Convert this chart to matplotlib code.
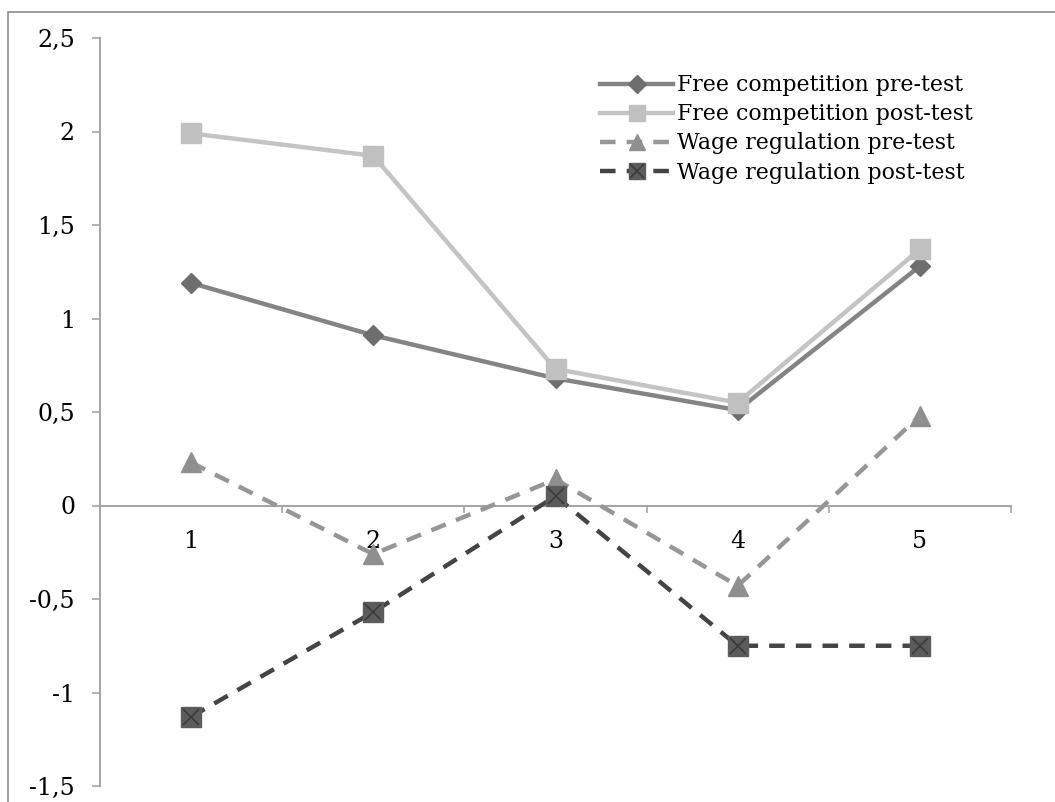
import matplotlib.pyplot as plt
from matplotlib.patches import Rectangle
from matplotlib.ticker import FixedLocator, FuncFormatter

# data
categories = [1, 2, 3, 4, 5]
free_pre = [1.19, 0.91, 0.68, 0.51, 1.28]
free_post = [1.99, 1.87, 0.73, 0.55, 1.37]
wage_pre = [0.23, -0.26, 0.14, -0.43, 0.48]
wage_post = [-1.13, -0.57, 0.05, -0.75, -0.75]

plt.rcParams['font.family'] = ['DejaVu Serif']

fig = plt.figure(figsize=(10.55, 8.02), dpi=100)
ax = fig.add_axes([100 / 1055, 16 / 802, 911 / 1055, 748 / 802])

# outer chart frame (cut off at right / bottom like the reference)
fig.patches.append(Rectangle((8 / 1055, -0.1), 1.2, 1.1 - 12 / 802,
                             transform=fig.transFigure, fill=False,
                             edgecolor='#8c8c8c', linewidth=1.2))

l1, = ax.plot(categories, free_pre, color='#848484', lw=3.2, marker='D', ms=10.5,
              mfc='#6e6e6e', mec='#6e6e6e', zorder=3)
l2, = ax.plot(categories, free_post, color='#c4c4c4', lw=3.2, marker='s', ms=14,
              mfc='#c0c0c0', mec='#c0c0c0', zorder=4)
l3, = ax.plot(categories, wage_pre, color='#969696', lw=3.2, ls=(0, (3.5, 2.5)), marker='^', ms=14,
              mfc='#8f8f8f', mec='#8f8f8f', zorder=3)
l4, = ax.plot(categories, wage_post, color='#444444', lw=3.2, ls=(0, (3.5, 2.5)), marker='s', ms=14,
              mfc='#5c5c5c', mec='#5c5c5c', zorder=4)
l4x, = ax.plot(categories, wage_post, ls='none', marker='x', ms=12, mew=1.2,
               color='#3a3a3a', zorder=5)

ax.set_xlim(0.5, 5.5)
ax.set_ylim(-1.5, 2.5)

for s in ['top', 'right']:
    ax.spines[s].set_visible(False)
ax.spines['bottom'].set_position(('data', 0))
for s in ['left', 'bottom']:
    ax.spines[s].set_color('#a6a6a6')
    ax.spines[s].set_linewidth(1.5)

ax.set_yticks([-1.5, -1, -0.5, 0, 0.5, 1, 1.5, 2, 2.5])
ax.yaxis.set_major_formatter(FuncFormatter(lambda v, p: f'{v:g}'.replace('.', ',')))
ax.tick_params(axis='y', length=6, width=1.2, color='#a6a6a6', pad=12, labelsize=17)

ax.set_xticks(categories)
ax.xaxis.set_minor_locator(FixedLocator([1.5, 2.5, 3.5, 4.5, 5.5]))
ax.tick_params(axis='x', which='major', length=0, pad=18, labelsize=17)
ax.tick_params(axis='x', which='minor', length=5, width=1.2, color='#a6a6a6')

ax.legend([l1, l2, l3, (l4, l4x)],
          ['Free competition pre-test', 'Free competition post-test',
           'Wage regulation pre-test', 'Wage regulation post-test'],
          loc='upper right', bbox_to_anchor=(0.968, 0.963), frameon=False,
          fontsize=15.8, handlelength=3.3, handletextpad=0.2, labelspacing=0.32,
          borderaxespad=0, markerscale=0.85)

plt.savefig('out.png', dpi=100)
